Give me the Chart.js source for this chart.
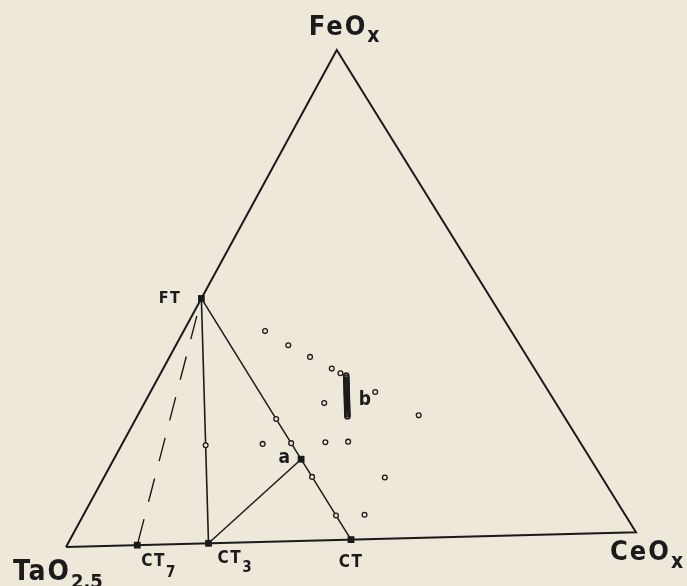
<!DOCTYPE html>
<html>
<head>
<meta charset="utf-8">
<script src="https://cdn.jsdelivr.net/npm/chart.js@4.4.1/dist/chart.umd.min.js"></script>
<style>
  html, body { margin: 0; padding: 0; background: #eee8da; }
  canvas { display: block; }
</style>
</head>
<body>
<canvas id="ternary" width="687" height="586"></canvas>
<script>
// --- corners of the composition triangle (plot units) ---
const cornerTa = [0, 0];
const cornerCe = [100, 2.6];
const cornerFe = [47.5, 87.2];

// --- compounds: [TaO2.5, CeOx, FeOx] mole fractions ---
const phaseNames = ['FT', 'CT7', 'CT3', 'CT', 'a'];
const phaseComps = [
  [0.5, 0, 0.5],
  [0.875, 0.125, 0],
  [0.75, 0.25, 0],
  [0.5, 0.5, 0],
  [0.5, 0.3333, 0.1667]
];

// --- examined compositions (open circles) ---
const sampleTa = [0.425, 0.40, 0.375, 0.35, 0.34, 0.30, 0.25, 0.40, 0.50, 0.65, 0.55, 0.50, 0.44, 0.40, 0.50, 0.375, 0.50, 0.45];
const sampleCe = [0.145, 0.20, 0.25, 0.30, 0.32, 0.40, 0.50, 0.32, 0.25, 0.15, 0.25, 0.30, 0.36, 0.40, 0.37, 0.50, 0.45, 0.50];
const sampleFe = [0.43, 0.40, 0.375, 0.35, 0.34, 0.30, 0.25, 0.28, 0.25, 0.20, 0.20, 0.20, 0.20, 0.20, 0.13, 0.125, 0.05, 0.05];

// --- cluster "b" along the FeOx - CT join (Ta = Ce) ---
const clusterFe = [0.335, 0.331, 0.327, 0.323, 0.319, 0.315, 0.311, 0.307, 0.303, 0.299, 0.295, 0.291,
                   0.287, 0.283, 0.279, 0.275, 0.271, 0.267, 0.263, 0.259, 0.256, 0.252];

const INK = '#1b1b1b';
const PAPER = '#eee8da';
const FONT = "'Liberation Sans Narrow', 'DejaVu Sans Condensed', 'Liberation Sans', sans-serif";

function toXY(comp) {
  const s = comp[0] + comp[1] + comp[2];
  const ta = comp[0] / s, ce = comp[1] / s, fe = comp[2] / s;
  return {
    x: ta * cornerTa[0] + ce * cornerCe[0] + fe * cornerFe[0],
    y: ta * cornerTa[1] + ce * cornerCe[1] + fe * cornerFe[1]
  };
}

const phase = {};
phaseNames.forEach((n, i) => { phase[n] = toXY(phaseComps[i]); });

const samplePts = sampleTa.map((t, i) => toXY([t, sampleCe[i], sampleFe[i]]));
const clusterPts = clusterFe.map(f => toXY([(1 - f) / 2, (1 - f) / 2, f]));

const ta = toXY([1, 0, 0]), ce = toXY([0, 1, 0]), fe = toXY([0, 0, 1]);

// text labels: anchor composition + pixel offset
const labels = [
  { text: 'FeO', sub: 'x', at: [0, 0, 1], dx: -28, dy: -15, size: 27, subSize: 21, subDy: 7, align: 'left', sp: 2 },
  { text: 'TaO', sub: '2.5', at: [1, 0, 0], dx: -53, dy: 33, size: 28, subSize: 20, subDy: 8, align: 'left', sp: 2 },
  { text: 'CeO', sub: 'x', at: [0, 1, 0], dx: -26, dy: 28, size: 27, subSize: 21, subDy: 8, align: 'left', sp: 2 },
  { text: 'FT', at: phaseComps[0], dx: -20, dy: 5, size: 16, align: 'right', sp: 1.5 },
  { text: 'CT', sub: '7', at: phaseComps[1], dx: 4, dy: 21, size: 17, subSize: 15, subDy: 11, align: 'left', sp: 1.5 },
  { text: 'CT', sub: '3', at: phaseComps[2], dx: 9, dy: 20, size: 17, subSize: 15, subDy: 9, align: 'left', sp: 1.5 },
  { text: 'CT', at: phaseComps[3], dx: 0, dy: 27, size: 17, align: 'center', sp: 1.5 },
  { text: 'a', at: phaseComps[4], dx: -11, dy: 4, size: 19, align: 'right', sp: 0 },
  { text: 'b', at: [0.355, 0.355, 0.29], dx: 12, dy: 7, size: 19, align: 'left', sp: 0 }
];

const paperPlugin = {
  id: 'paper',
  beforeDraw(chart) {
    const c = chart.ctx;
    c.save();
    c.fillStyle = PAPER;
    c.fillRect(0, 0, chart.width, chart.height);
    c.restore();
  }
};

const labelPlugin = {
  id: 'labels',
  afterDatasetsDraw(chart) {
    const c = chart.ctx;
    const xs = chart.scales.x, ys = chart.scales.y;
    c.save();
    c.fillStyle = INK;
    c.textBaseline = 'alphabetic';
    c.textAlign = 'left';
    labels.forEach(l => {
      const p = toXY(l.at);
      const px = xs.getPixelForValue(p.x) + l.dx;
      const py = ys.getPixelForValue(p.y) + l.dy;
      c.letterSpacing = l.sp + 'px';
      c.font = 'bold ' + l.size + 'px ' + FONT;
      const wMain = c.measureText(l.text).width;
      let wSub = 0;
      if (l.sub) {
        c.letterSpacing = '0px';
        c.font = 'bold ' + l.subSize + 'px ' + FONT;
        wSub = c.measureText(l.sub).width;
      }
      const w = wMain + wSub;
      let x0 = px;
      if (l.align === 'right') x0 = px - w;
      if (l.align === 'center') x0 = px - w / 2;
      c.letterSpacing = l.sp + 'px';
      c.font = 'bold ' + l.size + 'px ' + FONT;
      c.fillText(l.text, x0, py);
      if (l.sub) {
        c.letterSpacing = '0px';
        c.font = 'bold ' + l.subSize + 'px ' + FONT;
        c.fillText(l.sub, x0 + wMain, py + l.subDy);
      }
    });
    c.restore();
  }
};

function seg(points, width, dash) {
  return {
    data: points,
    showLine: true,
    borderColor: INK,
    borderWidth: width,
    borderDash: dash || [],
    borderDashOffset: dash ? 24 : 0,
    pointRadius: 0,
    fill: false,
    tension: 0,
    order: 3
  };
}

new Chart(document.getElementById('ternary'), {
  type: 'scatter',
  data: {
    datasets: [
      {
        data: samplePts,
        pointStyle: 'circle',
        pointRadius: 2.4,
        borderWidth: 1.3,
        borderColor: INK,
        backgroundColor: PAPER,
        order: 1
      },
      {
        data: clusterPts,
        pointStyle: 'circle',
        pointRadius: 2.6,
        borderWidth: 1.5,
        borderColor: INK,
        backgroundColor: 'rgba(0,0,0,0)',
        order: 1
      },
      {
        data: phaseNames.map(n => phase[n]),
        pointStyle: 'rect',
        pointRadius: 4.8,
        borderWidth: 0,
        backgroundColor: INK,
        order: 2
      },
      seg([ta, ce, fe, ta], 2),
      seg([phase.FT, phase.CT3], 1.6),
      seg([phase.FT, phase.CT], 1.5),
      seg([phase.CT3, phase.a], 1.5),
      seg([phase.FT, phase.CT7], 1.4, [24, 18])
    ]
  },
  options: {
    responsive: false,
    animation: false,
    layout: { padding: 0, autoPadding: false },
    plugins: { legend: { display: false }, tooltip: { enabled: false } },
    scales: {
      x: { type: 'linear', min: -11.58, max: 108.95, display: false },
      y: { type: 'linear', min: -6.84, max: 95.96, display: false }
    }
  },
  plugins: [paperPlugin, labelPlugin]
});
</script>
</body>
</html>
